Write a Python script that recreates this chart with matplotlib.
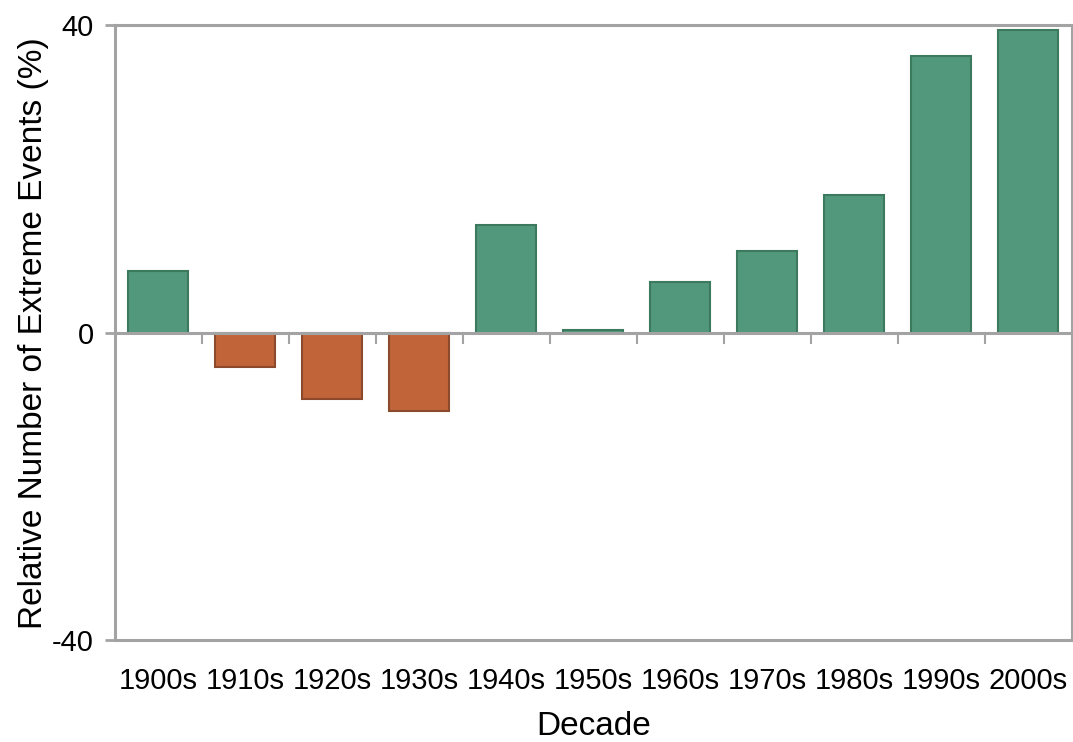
import numpy as np
import matplotlib.pyplot as plt

plt.rcParams['font.family'] = ['Liberation Sans', 'DejaVu Sans']

# --- Data ---
decades = ["1900s", "1910s", "1920s", "1930s", "1940s", "1950s",
           "1960s", "1970s", "1980s", "1990s", "2000s"]
values = [8.0, -4.4, -8.6, -10.2, 14.0, 0.4, 6.6, 10.6, 17.9, 36.0, 39.4]

green = "#52987c"
green_edge = "#3c7a5e"
orange = "#c2643a"
orange_edge = "#8c4a2c"
axis_gray = "#a3a3a3"

# --- Plot ---
fig = plt.figure(figsize=(10.73, 7.42), dpi=100)
ax = fig.add_axes([0.107, 0.137, 0.892, 0.829])

x = np.arange(len(decades))
colors = [green if v >= 0 else orange for v in values]
edges = [green_edge if v >= 0 else orange_edge for v in values]
ax.bar(x, values, width=0.69, color=colors, edgecolor=edges, linewidth=1.5, zorder=3)

ax.set_xlim(-0.5, len(decades) - 0.5)
ax.set_ylim(-40, 40)

# zero line with tick marks between categories
ax.axhline(0, color=axis_gray, linewidth=2.2, zorder=4)
for b in x[:-1] + 0.5:
    ax.plot([b, b], [0, -1.3], color=axis_gray, linewidth=1.5, zorder=4)

for side in ["top", "bottom", "left", "right"]:
    ax.spines[side].set_color(axis_gray)
    ax.spines[side].set_linewidth(2.2)

ax.set_yticks([-40, 0, 40])
ax.set_yticklabels(["-40", "0", "40"])
ax.tick_params(axis="y", length=7, width=2, color=axis_gray, labelsize=21, pad=8, direction="out")
ax.set_xticks(x)
ax.set_xticklabels(decades)
ax.tick_params(axis="x", length=0, labelsize=21, pad=19)

ax.set_xlabel("Decade", fontsize=24, labelpad=12)
ax.set_ylabel("Relative Number of Extreme Events (%)", fontsize=24, labelpad=2)

plt.savefig("out.png", dpi=100)
plt.close()
